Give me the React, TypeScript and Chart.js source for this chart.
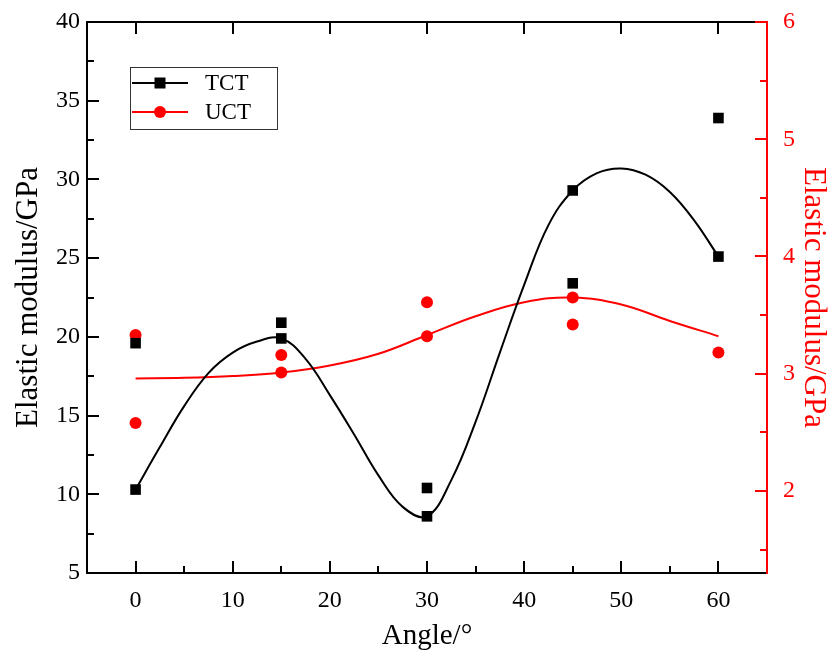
import React, { useEffect, useRef } from "react";
import { Chart, registerables } from "chart.js";
Chart.register(...registerables);

// ---- data ----
const tctAngles = [0, 0, 15, 15, 30, 30, 45, 45, 60, 60];
const tctValues = [19.6, 10.3, 20.9, 19.9, 10.4, 8.6, 29.3, 23.4, 33.9, 25.1];
const uctAngles = [0, 0, 15, 15, 30, 30, 45, 45, 60];
const uctValues = [3.33, 2.58, 3.16, 3.01, 3.61, 3.32, 3.65, 3.42, 3.18];
// fitted curves
const tctFitAngles = [0, 2.5, 5, 7.5, 10, 12.5, 15, 17.5, 20, 22.5, 25, 27.5, 30, 32.5, 35, 37.5, 40, 42.5, 45, 47.5, 50, 52.5, 55, 57.5, 60];
const tctFit = [10.3, 13.0, 15.6, 17.7, 19.0, 19.7, 19.9, 18.6, 16.3, 13.8, 11.2, 9.2, 8.6, 10.9, 14.6, 19.0, 23.3, 27.1, 29.3, 30.4, 30.7, 30.3, 29.2, 27.4, 25.1];
const uctFitAngles = [0, 5, 10, 15, 20, 25, 30, 35, 40, 45, 50, 55, 60];
const uctFit = [2.96, 2.965, 2.98, 3.01, 3.07, 3.17, 3.33, 3.49, 3.61, 3.65, 3.59, 3.45, 3.32];
const xTicks = [0, 10, 20, 30, 40, 50, 60];
const xMinor = [5, 15, 25, 35, 45, 55];
const leftTicks = [5, 10, 15, 20, 25, 30, 35, 40];
const leftMinor = [7.5, 12.5, 17.5, 22.5, 27.5, 32.5, 37.5];
const rightTicks = [2, 3, 4, 5, 6];
const rightMinor = [1.5, 2.5, 3.5, 4.5, 5.5];
const seriesNames = ["TCT", "UCT"];

const FONT = "'Liberation Serif', 'Times New Roman', serif";
const RED = "#ff0000";

const framePlugin = {
  id: "frame",
  afterDatasetsDraw(chart: any) {
    const { ctx, chartArea: a, scales } = chart;
    const x = scales.x, yl = scales.y, yr = scales.y1;
    const major = 11, minor = 6;
    ctx.save();
    ctx.lineWidth = 2;
    ctx.lineCap = "square";
    ctx.strokeStyle = "#000";
    ctx.beginPath();
    ctx.moveTo(a.right, a.top);
    ctx.lineTo(a.left, a.top);
    ctx.lineTo(a.left, a.bottom);
    ctx.lineTo(a.right, a.bottom);
    xTicks.forEach((v) => {
      const px = Math.round(x.getPixelForValue(v));
      ctx.moveTo(px, a.bottom);
      ctx.lineTo(px, a.bottom - major);
      ctx.moveTo(px, a.top);
      ctx.lineTo(px, a.top + major);
    });
    xMinor.forEach((v) => {
      const px = Math.round(x.getPixelForValue(v));
      ctx.moveTo(px, a.bottom);
      ctx.lineTo(px, a.bottom - minor);
    });
    leftTicks.forEach((v) => {
      const py = Math.round(yl.getPixelForValue(v));
      ctx.moveTo(a.left, py);
      ctx.lineTo(a.left + major, py);
    });
    leftMinor.forEach((v) => {
      const py = Math.round(yl.getPixelForValue(v));
      ctx.moveTo(a.left, py);
      ctx.lineTo(a.left + minor, py);
    });
    ctx.stroke();
    ctx.strokeStyle = RED;
    ctx.beginPath();
    ctx.moveTo(a.right, a.top);
    ctx.lineTo(a.right, a.bottom);
    rightTicks.forEach((v) => {
      const py = Math.round(yr.getPixelForValue(v));
      ctx.moveTo(a.right, py);
      ctx.lineTo(a.right - major, py);
    });
    rightMinor.forEach((v) => {
      const py = Math.round(yr.getPixelForValue(v));
      ctx.moveTo(a.right, py);
      ctx.lineTo(a.right - minor, py);
    });
    ctx.stroke();

    // legend
    const lx = a.left + 43, ly = a.top + 45, lw = 147, lh = 62;
    ctx.lineWidth = 1;
    ctx.strokeStyle = "#333";
    ctx.strokeRect(lx + 0.5, ly + 0.5, lw, lh);
    const rows = [
      { y: ly + 16, color: "#000", style: "rect", r: 7, name: seriesNames[0] },
      { y: ly + 45, color: RED, style: "circle", r: 6, name: seriesNames[1] },
    ];
    ctx.font = `23px ${FONT}`;
    ctx.textBaseline = "middle";
    ctx.textAlign = "left";
    rows.forEach((row) => {
      ctx.strokeStyle = row.color;
      ctx.fillStyle = row.color;
      ctx.lineWidth = 2;
      ctx.beginPath();
      ctx.moveTo(lx + 3, row.y);
      ctx.lineTo(lx + 57, row.y);
      ctx.stroke();
      const cx = lx + 30;
      if (row.style === "rect") {
        ctx.fillRect(cx - 5.5, row.y - 5.5, 11, 11);
      } else {
        ctx.beginPath();
        ctx.arc(cx, row.y, row.r, 0, Math.PI * 2);
        ctx.fill();
      }
      ctx.fillStyle = "#000";
      ctx.fillText(row.name, lx + 75, row.y + 1);
    });
    ctx.restore();
  },
};

const noPad = (s: any) => {
  s.paddingTop = 0;
  s.paddingBottom = 0;
};

export default function App() {
  const ref = useRef<HTMLCanvasElement>(null);
  useEffect(() => {
    const canvas = ref.current!;
    const chart = new Chart(canvas, {
      type: "scatter",
      data: {
        datasets: [
          {
            label: "TCT points",
            data: tctAngles.map((a, i) => ({ x: a, y: tctValues[i] })),
            yAxisID: "y",
            pointStyle: "rect",
            pointRadius: 7.5,
            backgroundColor: "#000",
            borderColor: "#000",
            borderWidth: 0,
            showLine: false,
          },
          {
            label: "UCT points",
            data: uctAngles.map((a, i) => ({ x: a, y: uctValues[i] })),
            yAxisID: "y1",
            pointStyle: "circle",
            pointRadius: 6,
            backgroundColor: RED,
            borderColor: RED,
            borderWidth: 0,
            showLine: false,
          },
          {
            label: "TCT",
            data: tctFitAngles.map((a, i) => ({ x: a, y: tctFit[i] })),
            yAxisID: "y",
            showLine: true,
            pointRadius: 0,
            borderColor: "#000",
            borderWidth: 2,
            tension: 0.4,
          },
          {
            label: "UCT",
            data: uctFitAngles.map((a, i) => ({ x: a, y: uctFit[i] })),
            yAxisID: "y1",
            showLine: true,
            pointRadius: 0,
            borderColor: RED,
            borderWidth: 2,
            tension: 0.4,
          },
        ],
      },
      options: {
        responsive: false,
        animation: false,
        layout: { padding: { top: 22, left: 0, right: 0, bottom: 0 } },
        plugins: { legend: { display: false }, tooltip: { enabled: false } },
        scales: {
          x: {
            type: "linear",
            min: -5,
            max: 65,
            grid: { display: false, drawTicks: false },
            border: { display: false },
            afterBuildTicks: (s: any) => {
              s.ticks = xTicks.map((v) => ({ value: v }));
            },
            afterFit: (s: any) => {
              s.height = 81;
              s.paddingLeft = 0;
              s.paddingRight = 0;
            },
            ticks: { color: "#000", padding: 13, font: { family: FONT, size: 24 }, maxRotation: 0 },
            title: {
              display: true,
              text: "Angle/°",
              color: "#000",
              font: { family: FONT, size: 29 },
              padding: { top: 0, bottom: 0 },
            },
          },
          y: {
            type: "linear",
            position: "left",
            min: 5,
            max: 40,
            grid: { display: false, drawTicks: false },
            border: { display: false },
            afterBuildTicks: (s: any) => {
              s.ticks = leftTicks.map((v) => ({ value: v }));
            },
            afterFit: (s: any) => {
              s.width = 87;
              noPad(s);
            },
            ticks: { color: "#000", padding: 7, font: { family: FONT, size: 24 } },
            title: {
              display: true,
              text: "Elastic modulus/GPa",
              color: "#000",
              font: { family: FONT, size: 31 },
              padding: { top: 10, bottom: 0 },
            },
          },
          y1: {
            type: "linear",
            position: "right",
            min: 1.3,
            max: 6,
            grid: { display: false, drawTicks: false },
            border: { display: false },
            afterBuildTicks: (s: any) => {
              s.ticks = rightTicks.map((v) => ({ value: v }));
            },
            afterFit: (s: any) => {
              s.width = 65;
              noPad(s);
            },
            ticks: { color: RED, padding: 16, font: { family: FONT, size: 24 } },
            title: {
              display: true,
              text: "Elastic modulus/GPa",
              color: RED,
              font: { family: FONT, size: 31 },
              padding: { top: 0, bottom: 0 },
            },
          },
        },
      },
      plugins: [framePlugin],
    });
    return () => chart.destroy();
  }, []);
  return (
    <div style={{ position: "fixed", left: 0, top: 0, width: 832, height: 654, background: "#fff" }}>
      <canvas ref={ref} width={832} height={654} style={{ display: "block" }} />
    </div>
  );
}
